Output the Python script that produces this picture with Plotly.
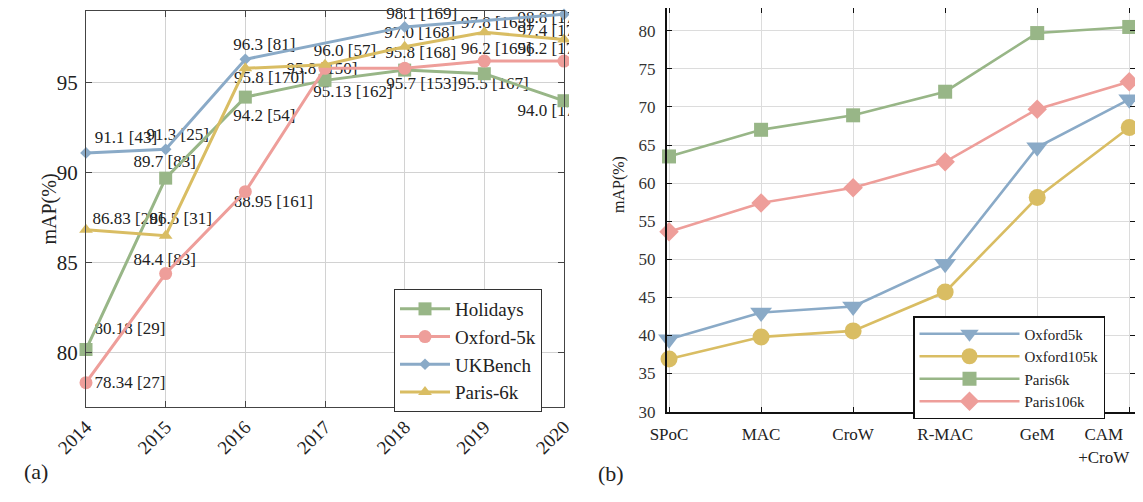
import plotly.graph_objects as go

# ---------------- data: panel (a) ----------------
years = [2014, 2015, 2016, 2017, 2018, 2019, 2020]
holidays = [80.18, 89.7, 94.2, 95.13, 95.7, 95.5, 94.0]
oxford5k_a = [78.34, 84.4, 88.95, 95.8, 95.8, 96.2, 96.2]
ukbench = [91.1, 91.3, 96.3, None, 98.1, None, 98.8]
paris6k_a = [86.83, 86.5, 95.8, 96.0, 97.0, 97.8, 97.4]

holidays_refs = ["[29]", "[83]", "[54]", "[162]", "[153]", "[167]", "[170]"]
oxford_refs = ["[27]", "[83]", "[161]", "[150]", "[168]", "[165]", "[170]"]
ukbench_refs = ["[43]", "[25]", "[81]", None, "[169]", None, "[170]"]
paris_refs = ["[29]", "[31]", "[170]", "[57]", "[168]", "[165]", "[170]"]

# ---------------- data: panel (b) ----------------
methods = ["SPoC", "MAC", "CroW", "R-MAC", "GeM", "CAM<br>+CroW"]
oxford5k_b = [39.5, 43.0, 43.8, 49.4, 64.7, 71.0]
oxford105k_b = [36.9, 39.8, 40.6, 45.7, 58.1, 67.3]
paris6k_b = [63.5, 67.0, 68.9, 72.0, 79.7, 80.5]
paris106k_b = [53.6, 57.4, 59.4, 62.8, 69.7, 73.3]

# ---------------- styles ----------------
OFF = 8                      # page body margin
W, H = 1143 - OFF, 502 - OFF  # figure size
GREEN, PINK, BLUE, GOLD = "#98b687", "#ee9e9a", "#8aaac7", "#d9bd63"
SERIF = "Liberation Serif"


def px(xp):
    return (xp - OFF) / W


def py(yp):
    return 1 - (yp - OFF) / H


A_X0, A_X1, A_Y0, A_Y1 = 86, 564, 10.7, 407.3
A_XR, A_YR = [2014, 2020], [76.97, 99.0]
B_X0, B_X1, B_Y0, B_Y1 = 667, 1134.5, 8.3, 412
B_XR, B_YR = [-0.022, 5.057], [29.95, 82.95]

px_per_year = (A_X1 - A_X0) / (A_XR[1] - A_XR[0])
px_per_unit = (A_Y1 - A_Y0) / (A_YR[1] - A_YR[0])

# label offsets in pixels (dx right, dy down)
hol_off = [(44, -20), (-1, -15), (19, 20), (28, 12), (17, 15), (9, 11), (-11, 11)]
oxf_off = [(44, 1), (-1, -13), (28, 11), (-3, 1), (16, -15), (12, -11), (-11, -11)]
ukb_off = [(40, -14), (12, -14), (19, -14), None, (17, -12), None, (-11, 4)]
par_off = [(42, -10), (15, -16), (24, 10), (20, -13), (15, -13), (12, -9), (-11, -8)]

fig = go.Figure()

# value labels (drawn under lines)
for vals, refs, offs in [(holidays, holidays_refs, hol_off),
                         (oxford5k_a, oxford_refs, oxf_off),
                         (ukbench, ukbench_refs, ukb_off),
                         (paris6k_a, paris_refs, par_off)]:
    xs, ys, ts = [], [], []
    for yr, v, r, o in zip(years, vals, refs, offs):
        if v is None:
            continue
        xs.append(yr + o[0] / px_per_year)
        ys.append(v - o[1] / px_per_unit)
        ts.append(f"{v} {r}")
    fig.add_trace(go.Scatter(x=xs, y=ys, text=ts, mode="text", textposition="middle center",
                             textfont=dict(family=SERIF, size=17, color="#222"),
                             cliponaxis=False, showlegend=False, hoverinfo="skip",
                             xaxis="x", yaxis="y"))

series_a = [
    ("Holidays", holidays, GREEN, "square", 13),
    ("Oxford-5k", oxford5k_a, PINK, "circle", 13),
    ("UKBench", ukbench, BLUE, "diamond", 9),
    ("Paris-6k", paris6k_a, GOLD, "triangle-up", 12),
]
for name, vals, col, sym, sz in series_a:
    fig.add_trace(go.Scatter(x=years, y=vals, name=name, mode="lines+markers",
                             line=dict(color=col, width=3),
                             marker=dict(symbol=sym, size=sz, color=col),
                             connectgaps=True, cliponaxis=False,
                             xaxis="x", yaxis="y", legend="legend"))

series_b = [
    ("Oxford5k", oxford5k_b, BLUE, "triangle-down", 19),
    ("Oxford105k", oxford105k_b, GOLD, "circle", 17),
    ("Paris6k", paris6k_b, GREEN, "square", 14),
    ("Paris106k", paris106k_b, PINK, "diamond", 15),
]
xb = list(range(len(methods)))
for name, vals, col, sym, sz in series_b:
    fig.add_trace(go.Scatter(x=xb, y=vals, name=name, mode="lines+markers",
                             line=dict(color=col, width=2.6),
                             marker=dict(symbol=sym, size=sz, color=col),
                             cliponaxis=False, xaxis="x2", yaxis="y2", legend="legend2"))

# last category label sits a little left of its tick (as in the reference)
PAD = "&nbsp;" * 12
tick_b = [m if i < len(methods) - 1 else "<br>".join(p + PAD for p in m.split("<br>"))
          for i, m in enumerate(methods)]

axis_a = dict(showgrid=True, gridcolor="#d2d2d2", gridwidth=1, showline=True,
              linecolor="#444", linewidth=1.3, mirror="ticks", ticks="inside",
              ticklen=6, tickcolor="#444", zeroline=False, automargin=False)
axis_b = dict(showgrid=True, gridcolor="#dcdcdc", gridwidth=1, showline=True,
              linecolor="#111", linewidth=2, mirror="ticks", ticks="inside",
              ticklen=5, tickcolor="#111", zeroline=False, automargin=False,
              ticklabeloverflow="allow")

fig.update_layout(
    template="none",
    width=W, height=H, margin=dict(l=0, r=0, t=0, b=0, autoexpand=False),
    paper_bgcolor="white", plot_bgcolor="white",
    font=dict(family=SERIF, color="#222"),
    xaxis=dict(domain=[px(A_X0), px(A_X1)], range=A_XR, tickvals=years, tickangle=-45,
               tickfont=dict(size=19, family=SERIF, color="#222"), anchor="y", **axis_a),
    yaxis=dict(domain=[py(A_Y1), py(A_Y0)], range=A_YR, tickvals=[80, 85, 90, 95],
               tickfont=dict(size=21, family=SERIF, color="#222"), anchor="x",
               ticklabelstandoff=3, **axis_a),
    xaxis2=dict(domain=[px(B_X0), px(B_X1)], range=B_XR, tickvals=xb, ticktext=tick_b,
                tickfont=dict(size=17, family=SERIF, color="#222"), anchor="y2",
                ticklabelstandoff=6, **axis_b),
    yaxis2=dict(domain=[py(B_Y1), py(B_Y0)], range=B_YR,
                tickvals=list(range(30, 81, 5)),
                tickfont=dict(size=17, family=SERIF, color="#333"), anchor="x2",
                ticklabelstandoff=6, **axis_b),
    legend=dict(x=px(394), y=py(289), xanchor="left", yanchor="top",
                bordercolor="#333", borderwidth=1, bgcolor="white", itemwidth=50,
                font=dict(size=19, family=SERIF, color="#222"), tracegroupgap=0),
    legend2=dict(x=px(913), y=py(316), xanchor="left", yanchor="top",
                 bordercolor="#111", borderwidth=1.5, bgcolor="white", itemwidth=100,
                 font=dict(size=15, family=SERIF, color="#222"), tracegroupgap=0),
    showlegend=True,
    # panel (a) is cropped just right of its frame: mask overflowing labels
    shapes=[dict(type="rect", xref="paper", yref="paper", layer="above",
                 x0=px(569), x1=px(600), y0=py(420), y1=py(0),
                 fillcolor="white", line=dict(width=0))],
    annotations=[
        dict(text="mAP(%)", x=px(35), y=py(209), xref="paper", yref="paper",
             textangle=-90, showarrow=False, font=dict(size=20, family=SERIF, color="#222")),
        dict(text="mAP(%)", x=px(619), y=py(185), xref="paper", yref="paper",
             textangle=-90, showarrow=False, font=dict(size=16, family=SERIF, color="#222")),
        dict(text="(a)", x=px(22), y=py(486), xref="paper", yref="paper",
             showarrow=False, font=dict(size=22, family=SERIF, color="#222")),
        dict(text="(b)", x=px(611), y=py(488), xref="paper", yref="paper",
             showarrow=False, font=dict(size=22, family=SERIF, color="#222")),
    ],
)

fig.write_html("out.html")
